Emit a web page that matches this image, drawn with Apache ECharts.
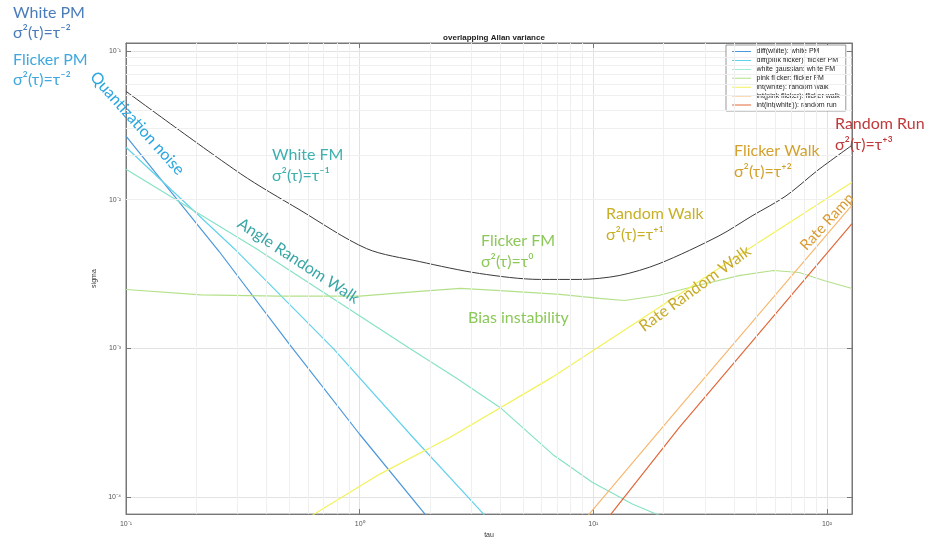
<!DOCTYPE html>
<html>
<head>
<meta charset="utf-8">
<script src="https://cdn.jsdelivr.net/npm/echarts@6/dist/echarts.min.js"></script>
<style>html,body{margin:0;padding:0;background:#fff}#main{width:932px;height:544px}</style>
</head>
<body>
<div id="main"></div>
<script>
// values (tau, sigma)
var whitePmTau = [0.1, 0.25, 0.5, 1, 2, 2.3];
var whitePmSigma = [0.0267, 0.0045, 0.00107, 0.000265, 0.00007, 0.000053];

var flickerPmTau = [0.1, 0.29, 0.77, 1.7, 3.2, 4.0];
var flickerPmSigma = [0.0225, 0.0047, 0.001, 0.00025, 0.000085, 0.000058];

var whiteFmTau = [0.1, 0.36, 1.64, 2.6, 4.0, 6.7, 9.9, 14.7, 19, 25];
var whiteFmSigma = [0.016, 0.0047, 0.001, 0.00063, 0.0004, 0.000194, 0.000126, 0.00009, 0.000076, 0.000063];

var flickerFmTau = [0.1, 0.21, 0.45, 1, 1.8, 2.7, 4, 7.2, 10.6, 13.6, 19, 28, 42, 59, 76, 97, 128];
var flickerFmSigma = [0.00249, 0.00229, 0.00225, 0.00225, 0.00242, 0.00253, 0.00245, 0.00231, 0.00217, 0.0021, 0.00227, 0.00265, 0.00309, 0.00334, 0.00324, 0.00286, 0.00253];

var randomWalkTau = [0.5, 0.63, 1.22, 2.43, 6.6, 46.5, 128];
var randomWalkSigma = [0.000062, 0.000076, 0.000143, 0.000252, 0.000634, 0.00469, 0.0131];

var flickerWalkTau = [7.9, 9.6, 23.3, 128];
var flickerWalkSigma = [0.000054, 0.000077, 0.0004, 0.0092];

var randomRunTau = [10, 11.9, 23.3, 128];
var randomRunSigma = [0.000054, 0.000077, 0.000294, 0.0069];

var totalTau = [0.1, 0.31, 0.55, 1.07, 1.8, 3.26, 5.9, 8.7, 12.9, 19.1, 34.5, 47.8, 66.8, 91.5, 128];
var totalSigma = [0.0535, 0.0149, 0.0086, 0.00469, 0.00384, 0.00319, 0.00291, 0.00291, 0.00309, 0.00371, 0.00571, 0.00778, 0.0106, 0.0158, 0.0232];

var legendNames = [
  'diff(white): white PM',
  'diff(pink flicker): flicker PM',
  'white gaussian: white FM',
  'pink flicker: flicker FM',
  'int(white): random walk',
  'int(pink flicker): flicker walk',
  'int(int(white)): random run'
];
var lineColors = ['#4b98dc', '#62d2ea', '#86e2c6', '#b4e08a', '#f2f25a', '#f8b870', '#e2683a'];

function pairs(t, s) {
  return t.map(function (v, i) { return [v, s[i]]; });
}

var sup = {'-': '⁻', '0': '⁰', '1': '¹', '2': '²', '3': '³', '4': '⁴'};
function powLabel(v) {
  var e = Math.log10(v);
  if (Math.abs(e - Math.round(e)) > 0.01) return '';
  return '10' + String(Math.round(e)).split('').map(function (c) { return sup[c]; }).join('');
}

// minor grid positions 2..9 per decade
var minorX = [], minorY = [];
[0.1, 1, 10].forEach(function (d) { for (var k = 2; k <= 9; k++) minorX.push({xAxis: d * k}); });
[0.00001, 0.0001, 0.001, 0.01].forEach(function (d) {
  for (var k = 2; k <= 9; k++) { var v = d * k; if (v > 7.7e-5 && v < 0.113) minorY.push({yAxis: v}); }
});

var chart = echarts.init(document.getElementById('main'));

var seriesList = [
  {name: 'grid', type: 'line', data: [], z: 1, silent: true,
    markLine: {silent: true, symbol: 'none', label: {show: false},
      lineStyle: {color: '#efefef', type: 'solid', width: 1},
      data: minorX.concat(minorY)}}
];
var allData = [
  pairs(whitePmTau, whitePmSigma),
  pairs(flickerPmTau, flickerPmSigma),
  pairs(whiteFmTau, whiteFmSigma),
  pairs(flickerFmTau, flickerFmSigma),
  pairs(randomWalkTau, randomWalkSigma),
  pairs(flickerWalkTau, flickerWalkSigma),
  pairs(randomRunTau, randomRunSigma)
];
legendNames.forEach(function (n, i) {
  seriesList.push({name: n, type: 'line', data: allData[i], symbol: 'none', z: 3,
    lineStyle: {color: lineColors[i], width: 1.2}, itemStyle: {color: lineColors[i]}});
});
seriesList.push({name: 'total', type: 'line', data: pairs(totalTau, totalSigma), symbol: 'none', z: 4,
  smooth: 0.3, lineStyle: {color: '#3a3a3a', width: 1}});

var axisCommon = {
  type: 'log', logBase: 10,
  axisLine: {show: true, lineStyle: {color: '#777', width: 1}},
  axisTick: {show: true, inside: true, length: 5, lineStyle: {color: '#777'}},
  splitLine: {show: true, lineStyle: {color: '#e2e2e2'}}
};

function txt(x, y, s, color, rot, size) {
  return {type: 'text', x: x, y: y, rotation: rot || 0, z: 10,
    style: {text: s, fill: color, font: (size || 16) + 'px Lato', textAlign: 'left', textVerticalAlign: rot ? 'middle' : 'top'}};
}

// thin line icon whose box spans the full row height
var lineIcon = 'path://M0,0h20v0.01h-20z M0,4.3h20v1h-20z M0,8.99h20v0.01h-20z';

chart.setOption({
  animation: false,
  backgroundColor: '#fff',
  title: {text: 'overlapping Allan variance', left: 489, top: 29, textAlign: 'center',
    textStyle: {fontSize: 8, fontWeight: 'bold', color: '#222', fontFamily: 'Liberation Sans'}},
  grid: {left: 126, right: 80, top: 43, bottom: 26, show: true, borderColor: '#777', borderWidth: 1},
  legend: {
    data: legendNames, orient: 'vertical', left: 726, top: 45, itemGap: 0.3,
    itemWidth: 20, itemHeight: 8.6, icon: lineIcon,
    backgroundColor: '#fff', borderColor: '#555', borderWidth: 0.6, padding: [2, 6, 2, 6],
    textStyle: {fontSize: 7, color: '#222', fontFamily: 'Liberation Sans'}
  },
  xAxis: [
    Object.assign({}, axisCommon, {min: 0.1, max: 128, name: 'tau', nameLocation: 'middle', nameGap: 17,
      nameTextStyle: {fontSize: 7, color: '#333', fontFamily: 'Liberation Sans'},
      axisLabel: {fontSize: 7, color: '#555', margin: 6, formatter: powLabel, fontFamily: 'Liberation Sans'}}),
    Object.assign({}, axisCommon, {min: 0.1, max: 128, position: 'top', axisLabel: {show: false}, splitLine: {show: false}})
  ],
  yAxis: [
    Object.assign({}, axisCommon, {min: 7.7e-5, max: 0.113, name: 'sigma', nameLocation: 'middle', nameGap: 25,
      nameTextStyle: {fontSize: 7, color: '#333', fontFamily: 'Liberation Sans'},
      axisLabel: {fontSize: 7, color: '#555', margin: 5, formatter: powLabel, fontFamily: 'Liberation Sans'}}),
    Object.assign({}, axisCommon, {min: 7.7e-5, max: 0.113, position: 'right', axisLabel: {show: false}, splitLine: {show: false}})
  ],
  series: seriesList,
  graphic: [
    txt(13, 5, 'White PM', '#4a7cba'),
    txt(13, 25, 'σ²(τ)=τ⁻²', '#4a7cba'),
    txt(13, 52, 'Flicker PM', '#3fa8de'),
    txt(13, 72, 'σ²(τ)=τ⁻²', '#3fa8de'),
    txt(93, 74, 'Quantization noise', '#2aa6e0', -0.84),
    txt(272, 147, 'White FM', '#3fb0b0'),
    txt(272, 168, 'σ²(τ)=τ⁻¹', '#3fb0b0'),
    txt(239, 222, 'Angle Random Walk', '#3aa6a6', -0.58),
    txt(481, 233, 'Flicker FM', '#8cc85a'),
    txt(481, 254, 'σ²(τ)=τ⁰', '#8cc85a'),
    txt(468, 310, 'Bias instability', '#8cc85a'),
    txt(606, 206, 'Random Walk', '#c8b026'),
    txt(606, 227, 'σ²(τ)=τ⁺¹', '#c8b026'),
    txt(641, 328, 'Rate Random Walk', '#c8aa2a', 0.63),
    txt(734, 143, 'Flicker Walk', '#d4a22c'),
    txt(734, 164, 'σ²(τ)=τ⁺²', '#d4a22c'),
    txt(835, 116, 'Random Run', '#c0393b'),
    txt(835, 137, 'σ²(τ)=τ⁺³', '#c0393b'),
    txt(803, 248, 'Rate Ramp', '#d89a30', 0.83, 15)
  ]
});
</script>
</body>
</html>
